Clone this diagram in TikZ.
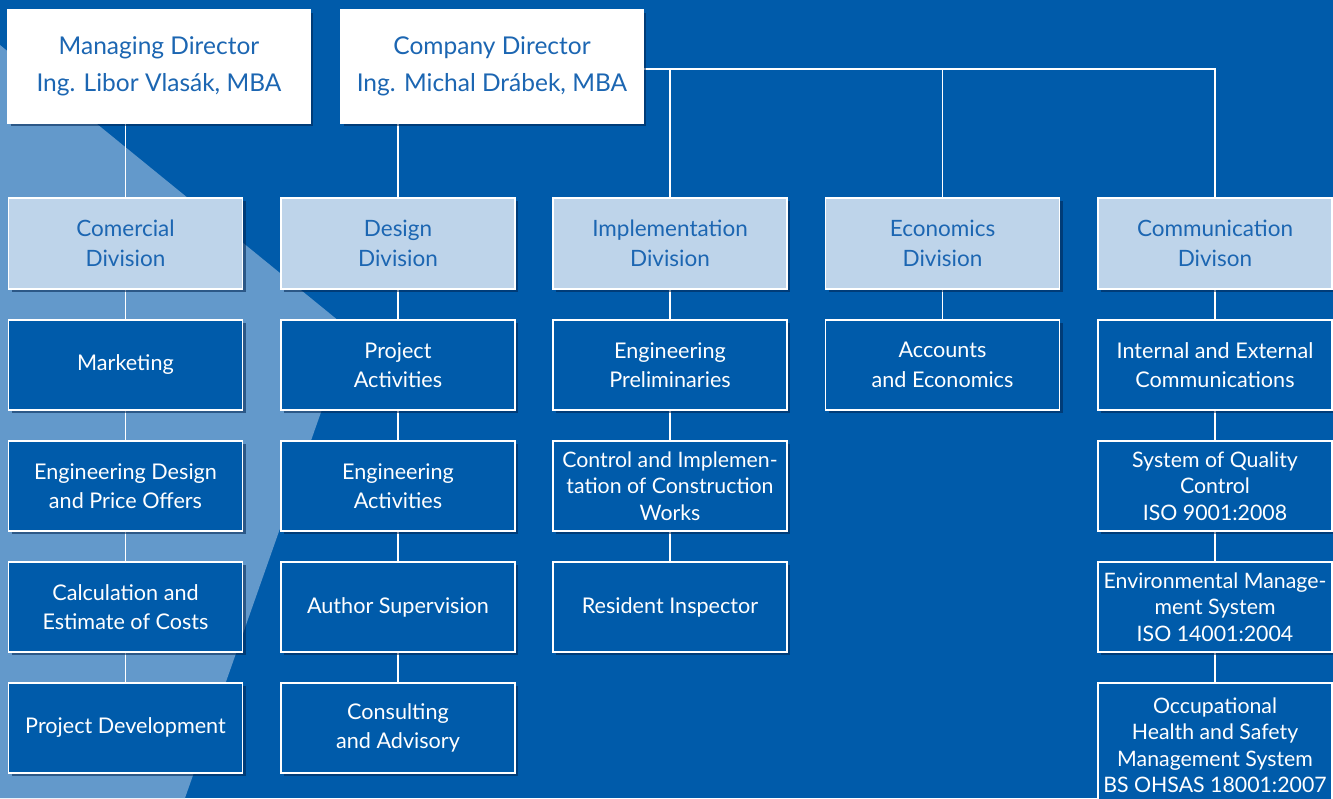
\documentclass[tikz,border=0pt]{standalone}
\usepackage{fontspec}
\setmainfont{Lato}
\usetikzlibrary{positioning, shadows, backgrounds}
\definecolor{bgdark}{RGB}{0,91,170}
\definecolor{bglight}{RGB}{99,153,203}
\definecolor{divfill}{RGB}{190,212,234}
\definecolor{divtext}{RGB}{28,102,178}
\definecolor{shade}{RGB}{0,35,80}

\tikzset{
    box/.style={draw=white, line width=1.2pt, inner sep=2pt, align=center,
        drop shadow={shadow xshift=3pt, shadow yshift=-3pt, fill=shade, opacity=0.55}},
    topbox/.style={box, fill=white, text=divtext, minimum width=302pt, minimum height=113pt,
        font=\fontsize{24.5}{37}\selectfont},
    divbox/.style={box, fill=divfill, text=divtext, minimum width=234pt, minimum height=91pt,
        font=\fontsize{22.5}{29.5}\selectfont},
    unitbox/.style={box, fill=bgdark, text=white, minimum width=234pt, minimum height=90pt,
        font=\fontsize{21.6}{29.5}\selectfont},
    tight/.style={font=\fontsize{21.3}{26.5}\selectfont},
    link/.style={draw=white, line width=1.2pt}
}

\begin{document}
\begin{tikzpicture}[x=1pt, y=-1pt, node distance=29.8pt]
    \useasboundingbox (0,0) rectangle (1333,798);
    \clip (0,0) rectangle (1333,798);

    % management
    \node[topbox] (md) at (159,66.5) {Managing Director\\Ing. Libor Vlasák, MBA};
    \node[topbox] (cd) at (492,66.5) {Company Director\\Ing. Michal Drábek, MBA};
    \coordinate (bus) at ([yshift=-2.5pt]cd.east);

    % divisions
    \node[divbox] (dcom) at (125.5,243.5) {Comercial\\Division};
    \node[divbox] (ddes) at (398,243.5) {Design\\Division};
    \node[divbox] (dimp) at (670,243.5) {Implementation\\Division};
    \node[divbox] (deco) at (942.5,243.5) {Economics\\Division};
    \node[divbox] (dcomm) at (1215,243.5) {Communication\\Divison};

    % departments
    \node[unitbox, below=of dcom] (c1) {Marketing};
    \node[unitbox, below=of c1] (c2) {Engineering Design\\and Price Offers};
    \node[unitbox, below=of c2] (c3) {Calculation and\\Estimate of Costs};
    \node[unitbox, below=of c3] (c4) {Project Development};

    \node[unitbox, below=of ddes] (d1) {Project\\Activities};
    \node[unitbox, below=of d1] (d2) {Engineering\\Activities};
    \node[unitbox, below=of d2] (d3) {Author Supervision};
    \node[unitbox, below=of d3] (d4) {Consulting\\and Advisory};

    \node[unitbox, below=of dimp] (i1) {Engineering\\Preliminaries};
    \node[unitbox, tight, below=of i1] (i2) {Control and Implemen-\\tation of Construction\\Works};
    \node[unitbox, below=of i2] (i3) {Resident Inspector};

    \node[unitbox, below=of deco] (e1) {Accounts\\and Economics};

    \node[unitbox, below=of dcomm] (k1) {Internal and External\\Communications};
    \node[unitbox, tight, below=of k1] (k2) {System of Quality\\Control\\ISO 9001:2008};
    \node[unitbox, tight, below=of k2] (k3) {Environmental Manage-\\ment System\\ISO 14001:2004};
    \node[unitbox, tight, minimum height=124pt, below=of k3] (k4) {Occupational\\Health and Safety\\Management System\\BS OHSAS 18001:2007};

    \begin{scope}[on background layer]
        \fill[bgdark] (0,0) rectangle (1333,798);
        \fill[bglight] (0,45) -- (350,330) -- (185,798) -- (0,798) -- cycle;
        \draw[link] (dcom.north) -- (dcom.north |- md.south);
        \draw[link] (ddes.north) -- (ddes.north |- cd.south);
        \draw[link] (bus) -| (dcomm.north);
        \draw[link] (dimp.north) -- (dimp.north |- bus);
        \draw[link] (deco.north) -- (deco.north |- bus);
        \foreach \a/\b in {dcom/c1, c1/c2, c2/c3, c3/c4,
                           ddes/d1, d1/d2, d2/d3, d3/d4,
                           dimp/i1, i1/i2, i2/i3, deco/e1,
                           dcomm/k1, k1/k2, k2/k3, k3/k4}
            \draw[link] (\a) -- (\b);
    \end{scope}
\end{tikzpicture}
\end{document}
